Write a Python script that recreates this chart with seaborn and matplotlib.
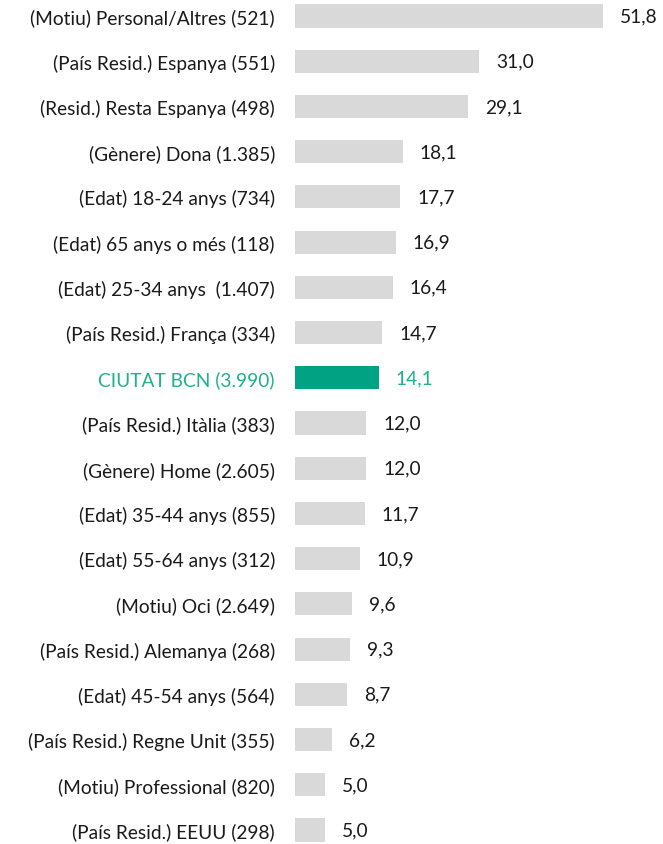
import pandas as pd
import numpy as np
import matplotlib.pyplot as plt
import seaborn as sns

# Data
labels = [
    '(Motiu) Personal/Altres (521)',
    '(País Resid.) Espanya (551)',
    '(Resid.) Resta Espanya (498)',
    '(Gènere) Dona (1.385)',
    '(Edat) 18-24 anys (734)',
    '(Edat) 65 anys o més (118)',
    '(Edat) 25-34 anys  (1.407)',
    '(País Resid.) França (334)',
    'CIUTAT BCN (3.990)',
    '(País Resid.) Itàlia (383)',
    '(Gènere) Home (2.605)',
    '(Edat) 35-44 anys (855)',
    '(Edat) 55-64 anys (312)',
    '(Motiu) Oci (2.649)',
    '(País Resid.) Alemanya (268)',
    '(Edat) 45-54 anys (564)',
    '(País Resid.) Regne Unit (355)',
    '(Motiu) Professional (820)',
    '(País Resid.) EEUU (298)',
]
values = [51.8, 31.0, 29.1, 18.1, 17.7, 16.9, 16.4, 14.7, 14.1, 12.0,
          12.0, 11.7, 10.9, 9.6, 9.3, 8.7, 6.2, 5.0, 5.0]
highlight = 'CIUTAT BCN (3.990)'

grey = '#d9d9d9'
teal = '#00a284'
teal_text = '#1fb08e'

data = pd.DataFrame({'label': labels, 'value': values})
palette = {l: (teal if l == highlight else grey) for l in labels}

plt.rcParams['font.family'] = ['Lato', 'DejaVu Sans']
fig = plt.figure(figsize=(6.63, 8.45), dpi=100)
ax = fig.add_axes([0.445, 0.0, 0.538, 1.0])

sns.barplot(data=data, x='value', y='label', hue='label', palette=palette,
            legend=False, orient='h', width=0.51, ax=ax, saturation=1)

ax.set_xlim(0, 60)
ax.set_ylim(18.31, -0.376)
for s in ax.spines.values():
    s.set_visible(False)
ax.set_xticks([])
ax.set_xlabel('')
ax.set_ylabel('')
ax.tick_params(axis='y', length=0, pad=14.5, labelsize=13.8)

for i, (lab, v) in enumerate(zip(labels, values)):
    hl = lab == highlight
    ax.text(v + 2.85, i, f'{v:.1f}'.replace('.', ','), va='center', ha='left',
            fontsize=13.8, color=teal_text if hl else '#1a1a1a')

for t in ax.get_yticklabels():
    t.set_color(teal_text if t.get_text() == highlight else '#1a1a1a')

fig.savefig('out.png', dpi=100)
